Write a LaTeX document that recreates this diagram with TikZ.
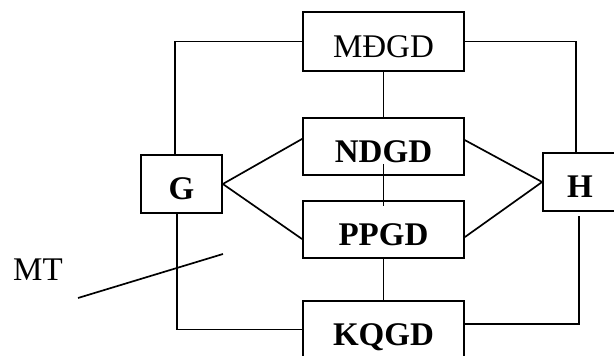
\documentclass[tikz,border=0pt]{standalone}
\usepackage{fontspec}
\setmainfont{Liberation Serif}
\usepackage{tikz}
\usetikzlibrary{positioning}
\tikzset{>=stealth}

\begin{document}
\begin{tikzpicture}[line width=1.2pt,
    blk/.style={draw, inner sep=0pt, minimum width=4.025cm, minimum height=1.425cm,
        text height=0.8cm, text depth=0pt, font=\fontsize{23.5}{28}\selectfont},
    sml/.style={blk, minimum width=2.025cm, minimum height=1.45cm}]
    \useasboundingbox (0,0) rectangle (15.35,8.9);
    % middle column
    \node[blk, minimum height=1.475cm] (mdgd) at (9.5875,7.8625) {MĐGD};
    \node[blk] (ndgd) at (9.5875,5.2375) {\textbf{NDGD}};
    \node[blk] (ppgd) at (9.5875,3.1625) {\textbf{PPGD}};
    \node[blk] (kqgd) at (9.5875,0.6625) {\textbf{KQGD}};
    % side boxes
    \node[sml] (g) at (4.5375,4.3) {\textbf{G}};
    \node[sml, minimum width=1.85cm] (h) at (14.5,4.35) {\textbf{H}};
    \node[font=\fontsize{23.5}{28}\selectfont] (mt) at (0.95,2.15) {MT};
    \coordinate (mt1) at (1.95,1.45);
    \coordinate (mt2) at (5.575,2.55);

    \draw ([xshift=-0.16cm]g.north) |- (mdgd.west);
    \draw (mdgd.east) -| ([xshift=-0.1cm]h.north);
    \draw (mdgd) -- (ndgd);
    \draw ([yshift=0.3cm]ndgd.south) -- ([yshift=-0.15cm]ppgd.north);
    \draw (ppgd) -- (kqgd);
    \draw (g.east) -- ([yshift=0.19cm]ndgd.west);
    \draw (g.east) -- ([yshift=-0.24cm]ppgd.west);
    \draw (h.west) -- ([yshift=0.16cm]ndgd.east);
    \draw (h.west) -- ([yshift=-0.19cm]ppgd.east);
    \draw ([xshift=-0.11cm]g.south) |- (kqgd.west);
    \draw ([yshift=0.14cm]kqgd.east) -| ([xshift=-0.03cm,yshift=-0.1cm]h.south);
    \draw (mt1) -- (mt2);
\end{tikzpicture}
\end{document}
